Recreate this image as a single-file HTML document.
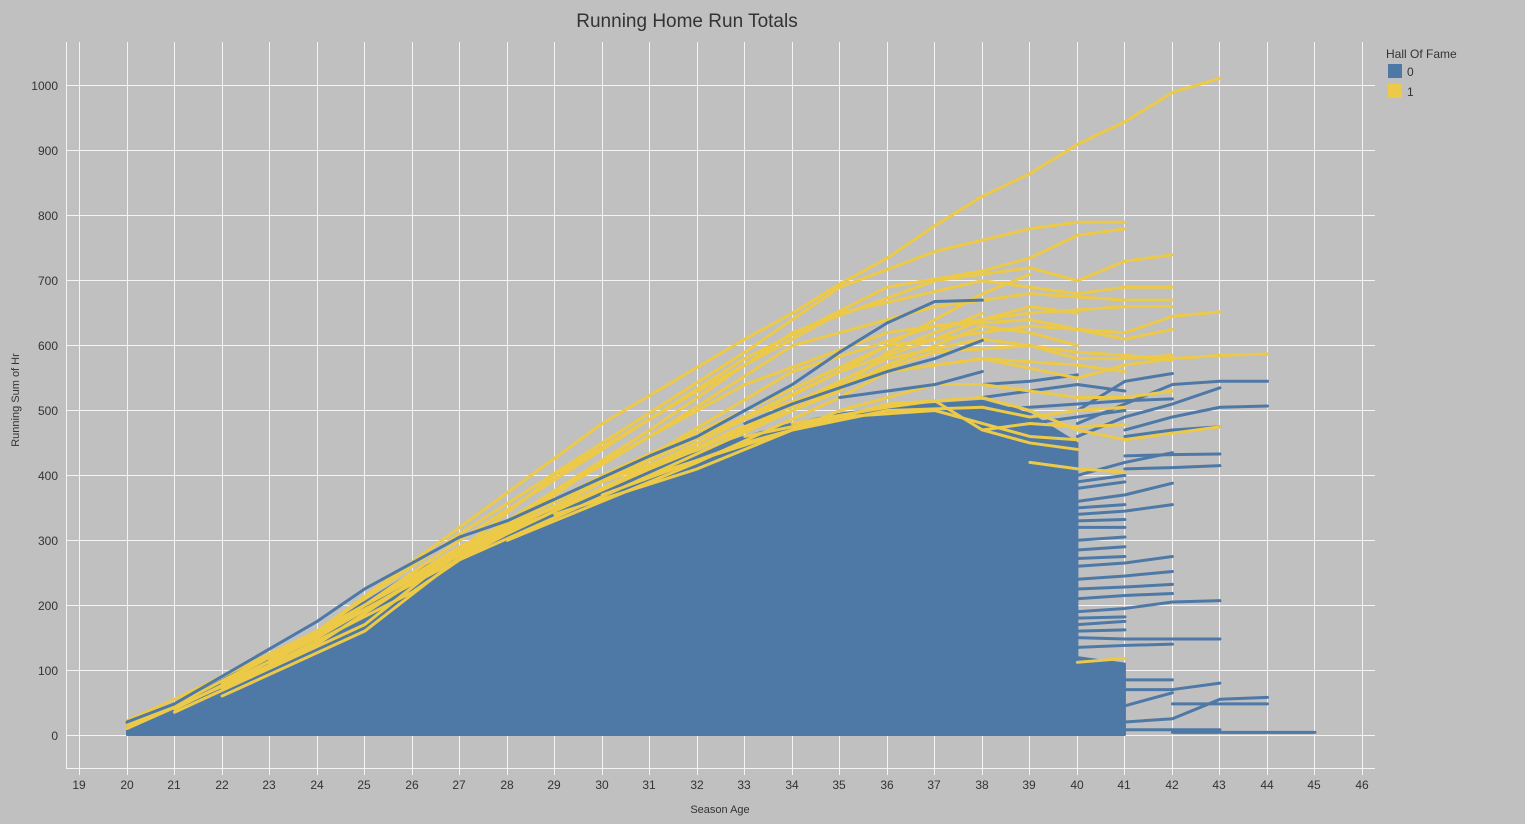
<!DOCTYPE html>
<html><head><meta charset="utf-8"><style>
html,body{margin:0;padding:0;background:#c0c0c0;}
svg{display:block;font-family:"Liberation Sans",sans-serif;}
</style></head><body>
<svg width="1525" height="824" viewBox="0 0 1525 824" xmlns="http://www.w3.org/2000/svg">
<rect width="1525" height="824" fill="#c0c0c0"/>
<text x="687" y="27" font-size="19" fill="#333" text-anchor="middle">Running Home Run Totals</text>
<g stroke="#f4f4f4" stroke-width="1">
<line x1="66" x2="1375" y1="735.5" y2="735.5"/><line x1="66" x2="1375" y1="670.5" y2="670.5"/>
<line x1="66" x2="1375" y1="605.5" y2="605.5"/><line x1="66" x2="1375" y1="540.5" y2="540.5"/>
<line x1="66" x2="1375" y1="475.5" y2="475.5"/><line x1="66" x2="1375" y1="410.5" y2="410.5"/>
<line x1="66" x2="1375" y1="345.5" y2="345.5"/><line x1="66" x2="1375" y1="280.5" y2="280.5"/>
<line x1="66" x2="1375" y1="215.5" y2="215.5"/><line x1="66" x2="1375" y1="150.5" y2="150.5"/>
<line x1="66" x2="1375" y1="85.5" y2="85.5"/>
<line x1="79.5" x2="79.5" y1="42" y2="775"/><line x1="127.5" x2="127.5" y1="42" y2="775"/>
<line x1="174.5" x2="174.5" y1="42" y2="775"/><line x1="222.5" x2="222.5" y1="42" y2="775"/>
<line x1="269.5" x2="269.5" y1="42" y2="775"/><line x1="317.5" x2="317.5" y1="42" y2="775"/>
<line x1="364.5" x2="364.5" y1="42" y2="775"/><line x1="412.5" x2="412.5" y1="42" y2="775"/>
<line x1="459.5" x2="459.5" y1="42" y2="775"/><line x1="507.5" x2="507.5" y1="42" y2="775"/>
<line x1="554.5" x2="554.5" y1="42" y2="775"/><line x1="602.5" x2="602.5" y1="42" y2="775"/>
<line x1="649.5" x2="649.5" y1="42" y2="775"/><line x1="697.5" x2="697.5" y1="42" y2="775"/>
<line x1="744.5" x2="744.5" y1="42" y2="775"/><line x1="792.5" x2="792.5" y1="42" y2="775"/>
<line x1="839.5" x2="839.5" y1="42" y2="775"/><line x1="887.5" x2="887.5" y1="42" y2="775"/>
<line x1="934.5" x2="934.5" y1="42" y2="775"/><line x1="982.5" x2="982.5" y1="42" y2="775"/>
<line x1="1029.5" x2="1029.5" y1="42" y2="775"/><line x1="1077.5" x2="1077.5" y1="42" y2="775"/>
<line x1="1124.5" x2="1124.5" y1="42" y2="775"/><line x1="1172.5" x2="1172.5" y1="42" y2="775"/>
<line x1="1219.5" x2="1219.5" y1="42" y2="775"/><line x1="1267.5" x2="1267.5" y1="42" y2="775"/>
<line x1="1314.5" x2="1314.5" y1="42" y2="775"/><line x1="1362.5" x2="1362.5" y1="42" y2="775"/>
<line x1="66.5" x2="66.5" y1="42" y2="769"/>
<line x1="66" x2="1375" y1="768.5" y2="768.5"/>
</g>
<g font-size="12" fill="#333" text-anchor="end">
<text x="58" y="740">0</text><text x="58" y="675">100</text><text x="58" y="610">200</text>
<text x="58" y="545">300</text><text x="58" y="480">400</text><text x="58" y="415">500</text>
<text x="58" y="350">600</text><text x="58" y="285">700</text><text x="58" y="220">800</text>
<text x="58" y="155">900</text><text x="58" y="90">1000</text>
</g>
<g font-size="12" fill="#333" text-anchor="middle">
<text x="79" y="789">19</text><text x="127" y="789">20</text><text x="174" y="789">21</text>
<text x="222" y="789">22</text><text x="269" y="789">23</text><text x="317" y="789">24</text>
<text x="364" y="789">25</text><text x="412" y="789">26</text><text x="459" y="789">27</text>
<text x="507" y="789">28</text><text x="554" y="789">29</text><text x="602" y="789">30</text>
<text x="649" y="789">31</text><text x="697" y="789">32</text><text x="744" y="789">33</text>
<text x="792" y="789">34</text><text x="839" y="789">35</text><text x="887" y="789">36</text>
<text x="934" y="789">37</text><text x="982" y="789">38</text><text x="1029" y="789">39</text>
<text x="1077" y="789">40</text><text x="1124" y="789">41</text><text x="1172" y="789">42</text>
<text x="1219" y="789">43</text><text x="1267" y="789">44</text><text x="1314" y="789">45</text>
<text x="1362" y="789">46</text>
</g>
<text x="720" y="813" font-size="11" fill="#333" text-anchor="middle">Season Age</text>
<text transform="translate(19,400) rotate(-90)" font-size="11" fill="#333" text-anchor="middle">Running Sum of Hr</text>
<text x="1386" y="58" font-size="12" fill="#333">Hall Of Fame</text>
<rect x="1388" y="64" width="14" height="14" fill="#4e79a7"/>
<rect x="1388" y="84" width="14" height="14" fill="#edc948"/>
<text x="1407" y="76" font-size="12" fill="#333">0</text>
<text x="1407" y="96" font-size="12" fill="#333">1</text>

<g transform="translate(-823.4,735) scale(47.52,-0.649)" fill="none" stroke-linejoin="round" stroke-linecap="round">
<g stroke="#4e79a7" stroke-width="3">
<polyline vector-effect="non-scaling-stroke" points="38,540 39,545 40,555"/>
<polyline vector-effect="non-scaling-stroke" points="38,520 39,530 40,540 41,530"/>
<polyline vector-effect="non-scaling-stroke" points="38,500 39,505 40,510 41,515 42,518"/>
<polyline vector-effect="non-scaling-stroke" points="39,480 40,490 41,500"/>
</g>
<polygon fill="#4e79a7" stroke="#4e79a7" stroke-width="2" vector-effect="non-scaling-stroke" points="20,0 20,20 21,45 22,85 23,125 24,160 25,205 26,250 27,285 28,320 29,350 30,380 31,410 32,435 33,460 34,480 35,495 36,505 37,510 38,515 39,495 40,450 40,120 41,110 41,0"/>
<g stroke="#4e79a7" stroke-width="3">
<polyline vector-effect="non-scaling-stroke" points="40,400 41,420 42,435"/>
<polyline vector-effect="non-scaling-stroke" points="40,390 41,400"/>
<polyline vector-effect="non-scaling-stroke" points="40,380 41,390"/>
<polyline vector-effect="non-scaling-stroke" points="40,360 41,370 42,388"/>
<polyline vector-effect="non-scaling-stroke" points="40,350 41,355"/>
<polyline vector-effect="non-scaling-stroke" points="40,340 41,345 42,355"/>
<polyline vector-effect="non-scaling-stroke" points="40,330 41,332"/>
<polyline vector-effect="non-scaling-stroke" points="40,320 41,320"/>
<polyline vector-effect="non-scaling-stroke" points="40,300 41,305"/>
<polyline vector-effect="non-scaling-stroke" points="40,285 41,290"/>
<polyline vector-effect="non-scaling-stroke" points="40,272 41,275"/>
<polyline vector-effect="non-scaling-stroke" points="40,260 41,265 42,275"/>
<polyline vector-effect="non-scaling-stroke" points="40,240 41,245 42,252"/>
<polyline vector-effect="non-scaling-stroke" points="40,225 41,228 42,232"/>
<polyline vector-effect="non-scaling-stroke" points="40,210 41,215 42,218"/>
<polyline vector-effect="non-scaling-stroke" points="40,190 41,195 42,205 43,207"/>
<polyline vector-effect="non-scaling-stroke" points="40,180 41,182"/>
<polyline vector-effect="non-scaling-stroke" points="40,170 41,175"/>
<polyline vector-effect="non-scaling-stroke" points="40,160 41,162"/>
<polyline vector-effect="non-scaling-stroke" points="40,150 41,148 42,148 43,148"/>
<polyline vector-effect="non-scaling-stroke" points="40,135 41,138 42,140"/>
<polyline vector-effect="non-scaling-stroke" points="41,85 42,85"/>
<polyline vector-effect="non-scaling-stroke" points="41,70 42,70 43,80"/>
<polyline vector-effect="non-scaling-stroke" points="41,45 42,65"/>
<polyline vector-effect="non-scaling-stroke" points="41,20 42,25 43,55 44,58"/>
<polyline vector-effect="non-scaling-stroke" points="42,48 43,48 44,48"/>
<polyline vector-effect="non-scaling-stroke" points="41,8 42,8 43,8"/>
<polyline vector-effect="non-scaling-stroke" points="42,4 43,4 44,4 45,4"/>
<polyline vector-effect="non-scaling-stroke" points="40,500 41,545 42,557"/>
<polyline vector-effect="non-scaling-stroke" points="40,480 41,510 42,540 43,545 44,545"/>
<polyline vector-effect="non-scaling-stroke" points="40,460 41,490 42,510 43,535"/>
<polyline vector-effect="non-scaling-stroke" points="41,470 42,490 43,505 44,507"/>
<polyline vector-effect="non-scaling-stroke" points="41,460 42,470 43,475"/>
<polyline vector-effect="non-scaling-stroke" points="41,430 42,432 43,433"/>
<polyline vector-effect="non-scaling-stroke" points="41,410 42,412 43,415"/>
</g>
<g stroke="#edc948" stroke-width="3">
<polyline vector-effect="non-scaling-stroke" points="20,22 21,55 24,160 27,320 30,480 33,610 34,650 35,695 36,735 37,785 38,830 39,865 40,910 41,945 42,990 43,1012"/>
<polyline vector-effect="non-scaling-stroke" points="20,15 21,45 24,160 27,310 30,450 33,590 35,690 37,745 39,780 40,790 41,790"/>
<polyline vector-effect="non-scaling-stroke" points="21,40 24,150 27,300 30,440 33,580 36,690 38,715 39,735 40,770 41,780"/>
<polyline vector-effect="non-scaling-stroke" points="22,60 25,160 28,330 31,470 34,620 37,700 39,720 40,700 41,730 42,740"/>
<polyline vector-effect="non-scaling-stroke" points="21,35 25,170 29,400 32,530 35,650 38,700 40,680 41,690 42,690"/>
<polyline vector-effect="non-scaling-stroke" points="20,10 24,140 28,330 31,460 34,600 37,660 39,680 41,670 42,670"/>
<polyline vector-effect="non-scaling-stroke" points="22,70 26,220 30,420 33,540 36,620 39,650 41,660 42,660"/>
<polyline vector-effect="non-scaling-stroke" points="23,110 27,290 31,430 34,560 37,630 39,640 41,610 42,625"/>
<polyline vector-effect="non-scaling-stroke" points="23,115 27,285 30,400 33,500 36,600 39,630 41,620 42,645 43,652"/>
<polyline vector-effect="non-scaling-stroke" points="22,80 26,240 30,390 33,490 36,560 38,580 40,550 41,570 42,580 43,585 44,587"/>
<polyline vector-effect="non-scaling-stroke" points="24,150 28,320 32,440 35,540 37,590 39,600 40,580 41,580 42,585"/>
<polyline vector-effect="non-scaling-stroke" points="23,120 27,280 31,410 34,510 36,580 38,610 40,590 41,585 42,578"/>
<polyline vector-effect="non-scaling-stroke" points="24,155 28,310 32,450 35,560 37,610 38,640 39,660 40,650"/>
<polyline vector-effect="non-scaling-stroke" points="25,200 29,360 33,490 35,560 36,600 37,640 38,680 39,710"/>
<polyline vector-effect="non-scaling-stroke" points="26,240 30,390 33,470 35,530 36,590 37,620 38,650"/>
<polyline vector-effect="non-scaling-stroke" points="27,270 31,400 34,500 36,570 37,600 38,630 39,620 40,600"/>
<polyline vector-effect="non-scaling-stroke" points="28,300 32,420 35,520 36,560 38,580 40,570 41,560"/>
<polyline vector-effect="non-scaling-stroke" points="29,340 32,410 35,500 37,540 38,540 40,520 41,520 42,530"/>
<polyline vector-effect="non-scaling-stroke" points="30,370 33,450 36,510 38,520 39,500 40,470 41,455 42,465 43,475"/>
<polyline vector-effect="non-scaling-stroke" points="31,400 34,470 36,500 38,505 39,490 40,500 41,505"/>
<polyline vector-effect="non-scaling-stroke" points="33,460 35,490 37,500 38,480 39,460 40,455"/>
<polyline vector-effect="non-scaling-stroke" points="34,480 36,505 37,515 38,470 39,450 40,440"/>
<polyline vector-effect="non-scaling-stroke" points="38,470 39,480 40,475 41,478"/>
<polyline vector-effect="non-scaling-stroke" points="39,420 40,410 41,405"/>
<polyline vector-effect="non-scaling-stroke" points="40,112 41,118"/>
</g>
<g stroke="#4e79a7" stroke-width="3">
<polyline vector-effect="non-scaling-stroke" points="20,20 21,48 24,175 25,225 26,265 27,305 28,330 31,430 32,460 33,500 34,540 35,590 36,635 37,668 38,670"/>
<polyline vector-effect="non-scaling-stroke" points="33,480 34,510 36,560 37,580 38,608"/>
<polyline vector-effect="non-scaling-stroke" points="35,520 36,530 37,540 38,560"/>
</g>
</g>
</svg>
</body></html>
